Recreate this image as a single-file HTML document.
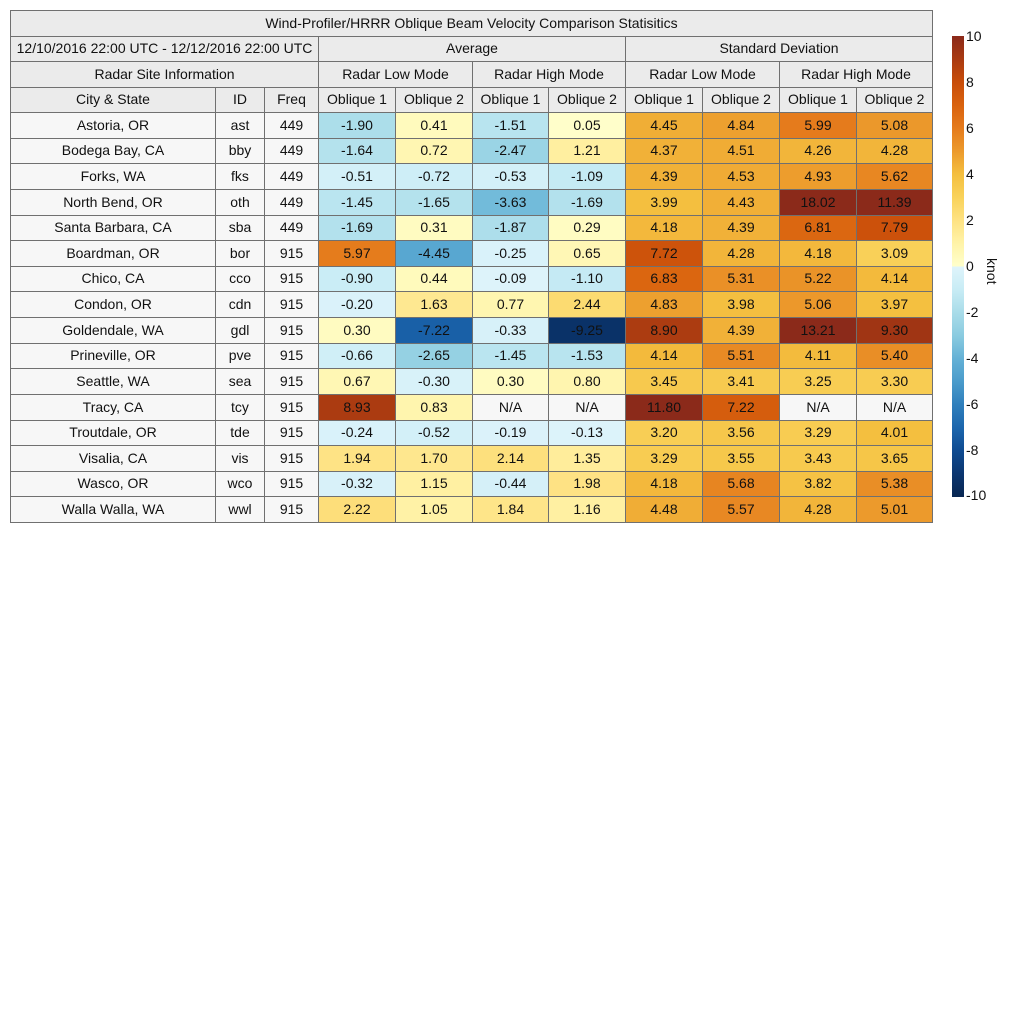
<!DOCTYPE html>
<html><head><meta charset="utf-8"><style>
body{margin:0;width:1024px;height:1024px;background:#fff;position:relative;overflow:hidden;font-family:"Liberation Sans",Arial,sans-serif;color:#111}
.c{position:absolute;box-sizing:border-box;border:1px solid #707070;display:flex;align-items:center;justify-content:center;font-size:14px;padding-bottom:2px;white-space:nowrap}
.h{background:#ebebeb}
.t{position:absolute;font-size:14px;color:#111}
</style></head><body>
<div id="root"></div>
<div style="position:absolute;left:952px;top:36px;width:12px;height:461px;background:linear-gradient(to bottom,#8b2a1a 0%,#a93a12 5%,#c84d0a 10%,#d9620e 15%,#e57b1c 20%,#ec9a2c 25%,#f4bf3f 30%,#f9d25a 35%,#fee283 40%,#fff3a8 45%,#ffffcc 50%,#dff4fb 50%,#c8ecf5 55%,#a9dce9 60%,#8acbe0 65%,#64b1d6 70%,#4a9bcb 75%,#2f7fbc 80%,#1c66ad 85%,#0f4b91 90%,#0b3670 95%,#082651 100%)"></div>
<div class="t" style="left:966px;top:28px">10</div>
<div class="t" style="left:966px;top:74px">8</div>
<div class="t" style="left:966px;top:120px">6</div>
<div class="t" style="left:966px;top:166px">4</div>
<div class="t" style="left:966px;top:212px">2</div>
<div class="t" style="left:966px;top:258px">0</div>
<div class="t" style="left:966px;top:304px">-2</div>
<div class="t" style="left:966px;top:350px">-4</div>
<div class="t" style="left:966px;top:396px">-6</div>
<div class="t" style="left:966px;top:442px">-8</div>
<div class="t" style="left:966px;top:487px">-10</div>
<div class="t" style="left:980px;top:258px;transform:rotate(90deg);transform-origin:0 0;left:1000px">knot</div>
<script>
var R=document.getElementById('root');
function cell(x1,y1,x2,y2,txt,bg,cls){var d=document.createElement('div');d.className='c'+(cls?' '+cls:'');d.style.left=x1+'px';d.style.top=y1+'px';d.style.width=(x2-x1+1)+'px';d.style.height=(y2-y1+1)+'px';if(bg)d.style.background=bg;d.textContent=txt;R.appendChild(d);}
var X=[10,215,264,318,395,472,548,625,702,779,856,932];
cell(10,10,932,36,'Wind-Profiler/HRRR Oblique Beam Velocity Comparison Statisitics','#ebebeb');
cell(10,36,318,61,'12/10/2016 22:00 UTC - 12/12/2016 22:00 UTC','#ebebeb');
cell(318,36,625,61,'Average','#ebebeb');cell(625,36,932,61,'Standard Deviation','#ebebeb');
cell(10,61,318,87,'Radar Site Information','#ebebeb');
cell(318,61,472,87,'Radar Low Mode','#ebebeb');cell(472,61,625,87,'Radar High Mode','#ebebeb');
cell(625,61,779,87,'Radar Low Mode','#ebebeb');cell(779,61,932,87,'Radar High Mode','#ebebeb');
var hd=['City & State','ID','Freq','Oblique 1','Oblique 2','Oblique 1','Oblique 2','Oblique 1','Oblique 2','Oblique 1','Oblique 2'];
for(var i=0;i<11;i++)cell(X[i],87,X[i+1],112,hd[i],'#ebebeb');
var P=['#ffffcc','#fff3a8','#fee283','#f9d25a','#f4bf3f','#ec9a2c','#e57b1c','#d9620e','#c84d0a','#a93a12','#8b2a1a'];
var N=['#dff4fb','#c8ecf5','#a9dce9','#8acbe0','#64b1d6','#4a9bcb','#2f7fbc','#1c66ad','#0f4b91','#0b3670','#082651'];
function h2(c){return[parseInt(c.substr(1,2),16),parseInt(c.substr(3,2),16),parseInt(c.substr(5,2),16)]}
function col(v){var a=v>=0?P:N;var t=Math.min(Math.abs(v),9.999);var i=Math.floor(t),f=t-i;var c1=h2(a[i]),c2=h2(a[i+1]);return 'rgb('+c1.map(function(x,k){return Math.round(x+(c2[k]-x)*f)}).join(',')+')';}
var D=[['Astoria, OR','ast',449,-1.90,0.41,-1.51,0.05,4.45,4.84,5.99,5.08],
['Bodega Bay, CA','bby',449,-1.64,0.72,-2.47,1.21,4.37,4.51,4.26,4.28],
['Forks, WA','fks',449,-0.51,-0.72,-0.53,-1.09,4.39,4.53,4.93,5.62],
['North Bend, OR','oth',449,-1.45,-1.65,-3.63,-1.69,3.99,4.43,18.02,11.39],
['Santa Barbara, CA','sba',449,-1.69,0.31,-1.87,0.29,4.18,4.39,6.81,7.79],
['Boardman, OR','bor',915,5.97,-4.45,-0.25,0.65,7.72,4.28,4.18,3.09],
['Chico, CA','cco',915,-0.90,0.44,-0.09,-1.10,6.83,5.31,5.22,4.14],
['Condon, OR','cdn',915,-0.20,1.63,0.77,2.44,4.83,3.98,5.06,3.97],
['Goldendale, WA','gdl',915,0.30,-7.22,-0.33,-9.25,8.90,4.39,13.21,9.30],
['Prineville, OR','pve',915,-0.66,-2.65,-1.45,-1.53,4.14,5.51,4.11,5.40],
['Seattle, WA','sea',915,0.67,-0.30,0.30,0.80,3.45,3.41,3.25,3.30],
['Tracy, CA','tcy',915,8.93,0.83,null,null,11.80,7.22,null,null],
['Troutdale, OR','tde',915,-0.24,-0.52,-0.19,-0.13,3.20,3.56,3.29,4.01],
['Visalia, CA','vis',915,1.94,1.70,2.14,1.35,3.29,3.55,3.43,3.65],
['Wasco, OR','wco',915,-0.32,1.15,-0.44,1.98,4.18,5.68,3.82,5.38],
['Walla Walla, WA','wwl',915,2.22,1.05,1.84,1.16,4.48,5.57,4.28,5.01]];
for(var r=0;r<16;r++){var y1=Math.round(112+r*25.625),y2=Math.round(112+(r+1)*25.625);
for(var i=0;i<11;i++){var v=D[r][i],bg='#f7f7f7',tx=v;
if(i>=3){if(v===null){tx='N/A';}else{bg=col(v);tx=v.toFixed(2);}}
cell(X[i],y1,X[i+1],y2,tx,bg);}}
</script>
</body></html>
